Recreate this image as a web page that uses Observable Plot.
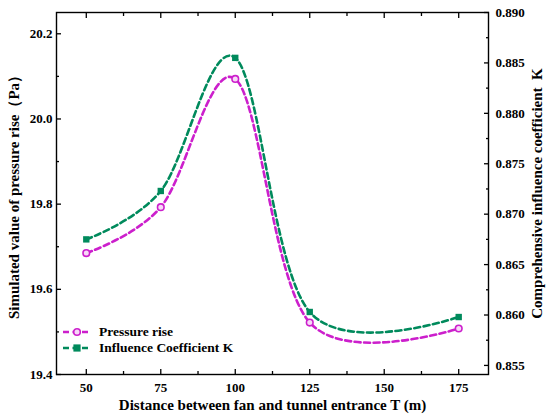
<!DOCTYPE html>
<html><head><meta charset="utf-8">
<script src="https://cdn.jsdelivr.net/npm/d3@7"></script>
<script src="https://cdn.jsdelivr.net/npm/@observablehq/plot@0.6"></script>
<style>
body{margin:0;background:#fff;}
#wrap{position:relative;width:550px;height:418px;font-family:"Liberation Serif","Times New Roman",serif;font-weight:bold;}
#legend{position:absolute;left:62px;top:324px;font-size:13.5px;line-height:16px;}
#legend .row{display:flex;align-items:center;height:16px;}
#legend svg{margin-right:8px;}
</style></head><body><div id="wrap"><div id="legend"></div></div>
<script>
const distances = [50, 75, 100, 125, 175];
const pressureRise = [19.685, 19.793, 20.094, 19.522, 19.508];
const influenceK = [0.8675, 0.8723, 0.8855, 0.8603, 0.8598];

const xTicks = [50, 75, 100, 125, 150, 175];
const xMinor = [62.5, 87.5, 112.5, 137.5, 162.5];
const yTicks = [19.4, 19.6, 19.8, 20.0, 20.2];
const yMinor = [19.5, 19.7, 19.9, 20.1];
const kTicks = [0.855, 0.860, 0.865, 0.870, 0.875, 0.880, 0.885, 0.890];
const kMinor = [0.8575, 0.8625, 0.8675, 0.8725, 0.8775, 0.8825, 0.8875];

const xDomain = [40, 185];
const yDomain = [19.4, 20.25];
const kDomain = [0.8541, 0.890];

const seriesNames = ["Pressure rise", "Influence Coefficient  K"];
const colors = ["#cc1fcc", "#008a5c"];
const xTitle = "Distance between fan and tunnel entrance T (m)";
const yTitle = "Simulated value of pressure rise（Pa）";
const kTitle = "Comprehensive influence coefficient  K";

const kToY = k => yDomain[0] + (k - kDomain[0]) / (kDomain[1] - kDomain[0]) * (yDomain[1] - yDomain[0]);
const yToK = y => kDomain[0] + (y - yDomain[0]) / (yDomain[1] - yDomain[0]) * (kDomain[1] - kDomain[0]);

const pData = distances.map((d, i) => ({x: d, y: pressureRise[i]}));
const kData = distances.map((d, i) => ({x: d, y: kToY(influenceK[i])}));

const dash = "6,3.5";
const blank = () => "";

const chart = Plot.plot({
  width: 550,
  height: 418,
  marginLeft: 56,
  marginRight: 62,
  marginTop: 12,
  marginBottom: 44,
  style: {fontFamily: '"Liberation Serif","Times New Roman",serif', fontWeight: "bold", fontSize: "13px", color: "black", background: "white"},
  x: {domain: xDomain, axis: null},
  y: {domain: yDomain, axis: null},
  marks: [
    // bottom axis
    Plot.axisX(xTicks, {anchor: "bottom", tickSize: -5, tickFormat: blank, label: null, strokeWidth: 1.3}),
    Plot.axisX(xMinor, {anchor: "bottom", tickSize: -3, tickFormat: blank, label: null, strokeWidth: 1.3}),
    Plot.axisX(xTicks, {anchor: "bottom", tickSize: 0, tickPadding: 8, label: null, tickFormat: d => String(d)}),
    // top axis
    Plot.axisX(xTicks, {anchor: "top", tickSize: -5, tickFormat: blank, label: null, strokeWidth: 1.3}),
    Plot.axisX(xMinor, {anchor: "top", tickSize: -3, tickFormat: blank, label: null, strokeWidth: 1.3}),
    // left axis
    Plot.axisY(yTicks, {anchor: "left", tickSize: -5, tickFormat: blank, label: null, strokeWidth: 1.3}),
    Plot.axisY(yMinor, {anchor: "left", tickSize: -3, tickFormat: blank, label: null, strokeWidth: 1.3}),
    Plot.axisY(yTicks, {anchor: "left", tickSize: 0, tickPadding: 4, label: null, tickFormat: d => d.toFixed(1)}),
    // right axis
    Plot.axisY(kTicks.map(kToY), {anchor: "right", tickSize: -5, tickFormat: blank, label: null, strokeWidth: 1.3}),
    Plot.axisY(kMinor.map(kToY), {anchor: "right", tickSize: -3, tickFormat: blank, label: null, strokeWidth: 1.3}),
    Plot.axisY(kTicks.map(kToY), {anchor: "right", tickSize: 0, tickPadding: 7, label: null, tickFormat: d => yToK(d).toFixed(3)}),
    Plot.frame({stroke: "black", strokeWidth: 1.4}),
    // series
    Plot.line(pData, {x: "x", y: "y", curve: "cardinal", tension: 0, stroke: colors[0], strokeWidth: 2.6, strokeDasharray: dash}),
    Plot.line(kData, {x: "x", y: "y", curve: "cardinal", tension: 0, stroke: colors[1], strokeWidth: 2.6, strokeDasharray: dash}),
    Plot.dot(pData, {x: "x", y: "y", r: 3.3, stroke: colors[0], strokeWidth: 1.6, fill: "#f7d9f7"}),
    Plot.dot(kData, {x: "x", y: "y", r: 3.6, symbol: "square", fill: colors[1], stroke: "none"}),
    // titles
    Plot.text([xTitle], {frameAnchor: "bottom", dy: 31, text: d => d, fontSize: 15, fontWeight: "bold", lineAnchor: "middle", textAnchor: "middle"}),
    Plot.text([yTitle], {frameAnchor: "left", dx: -42, text: d => d, rotate: -90, fontSize: 15, fontWeight: "bold", lineAnchor: "middle", textAnchor: "middle"}),
    Plot.text([kTitle], {frameAnchor: "right", dx: 49, text: d => d, rotate: -90, fontSize: 15, fontWeight: "bold", lineAnchor: "middle", textAnchor: "middle"})
  ]
});
document.getElementById("wrap").prepend(chart);

// legend
const legend = document.getElementById("legend");
seriesNames.forEach((name, i) => {
  const row = document.createElement("div");
  row.className = "row";
  const marker = i === 0
    ? `<circle cx="15" cy="8" r="3.3" fill="#f7d9f7" stroke="${colors[0]}" stroke-width="1.6"/>`
    : `<rect x="11.4" y="4.4" width="7.2" height="7.2" fill="${colors[1]}"/>`;
  row.innerHTML = `<svg width="29" height="16"><line x1="1" y1="8" x2="29" y2="8" stroke="${colors[i]}" stroke-width="2.6" stroke-dasharray="${dash}"/>${marker}</svg><span>${name}</span>`;
  legend.appendChild(row);
});
</script>
</body></html>
